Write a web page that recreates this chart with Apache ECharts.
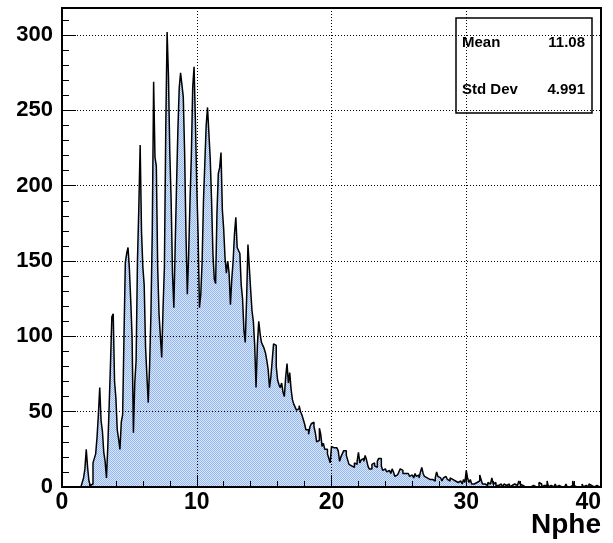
<!DOCTYPE html>
<html>
<head>
<meta charset="utf-8">
<script src="https://cdn.jsdelivr.net/npm/echarts@6/dist/echarts.min.js"></script>
<style>
html, body { margin: 0; padding: 0; background: #fff; }
#chart { width: 613px; height: 543px; }
</style>
</head>
<body>
<div id="chart"></div>
<script>
// Histogram of Nphe: 400 bins of width 0.1 from 0 to 40
const binLow = 0;
const binHigh = 40;
const binWidth = 0.1;
const counts = [
  0,0,0,0,0,0,0,0,0,0,
  0,0,0,0,1,3,6,12,25,13,
  4,1,2,16,19,22,33,48,66,44,
  37,23,17,6,27,54,82,113,115,70,
  59,38,32,25,43,48,100,149,155,159,
  145,124,100,36,69,84,150,185,227,170,
  146,134,93,74,56,80,115,170,269,219,
  213,146,115,100,86,119,146,237,302,273,
  222,190,142,119,160,200,237,265,275,267,
  259,222,168,128,155,190,220,265,279,243,
  200,168,119,128,150,190,215,240,252,235,
  218,190,155,138,135,182,208,212,222,184,
  171,152,142,150,142,121,138,150,168,179,
  159,157,155,134,125,104,96,125,161,146,
  131,117,110,94,66,94,110,102,96,94,
  92,89,84,78,66,73,84,95,94,80,
  71,68,66,69,63,60,73,82,69,76,
  65,58,55,53,51,52,54,50,48,45,
  42,38,38,35,40,42,43,40,36,30,
  31,39,35,27,29,25,25,22,19,16,
  27,26,27,26,25,24,17,20,22,24,
  24,21,18,15,14,13,13,16,15,17,
  23,16,18,19,17,21,18,14,12,12,
  15,16,14,13,17,19,19,14,11,12,
  13,10,11,12,9,12,10,7,8,9,
  10,12,11,9,9,8,9,8,7,8,
  8,6,9,7,8,6,10,13,9,7,
  6,7,5,6,5,5,4,6,10,7,
  6,5,4,6,7,8,5,4,6,5,
  6,4,5,3,2,4,3,2,5,3,
  11,6,3,5,2,2,1,3,2,4,
  8,5,2,2,2,1,3,2,1,6,
  2,3,1,1,2,2,1,0,2,1,
  1,2,0,1,0,2,1,1,0,4,
  2,1,0,0,1,0,1,0,0,1,
  0,0,1,0,3,2,0,1,0,1,
  4,0,1,0,0,0,2,0,1,0,
  0,1,0,0,2,0,0,0,1,4,
  1,0,0,0,0,0,2,0,1,0,
  0,2,1,0,0,0,1,0,0,0
];
const yMax = 318;
const xTickStep = 10;
const yTickStep = 50;
const yMinorStep = 10;
const xTitle = 'Nphe';
const statNames = ['Mean', 'Std Dev'];
const statValues = ['11.08', '4.991'];

// step-line points at the left edge of each bin, closed at the upper edge
const points = counts.map((c, i) => [binLow + i * binWidth, c]);
points.push([binHigh, counts[counts.length - 1]]);

// dithered light-blue fill
const tile = document.createElement('canvas');
tile.width = 2; tile.height = 2;
const tg = tile.getContext('2d');
tg.fillStyle = '#dbe7f9'; tg.fillRect(0, 0, 2, 2);
tg.fillStyle = '#93b8f0'; tg.fillRect(0, 0, 1, 1); tg.fillRect(1, 1, 1, 1);

const font = '"Liberation Sans", Arial, Helvetica, sans-serif';
const chart = echarts.init(document.getElementById('chart'), null, { renderer: 'canvas' });

const dotted = { show: true, lineStyle: { color: '#000', width: 1, type: [1, 2] } };

function statText(x, y, text, align) {
  return { type: 'text', x: x, y: y, z: 11,
    style: { text: text, font: 'bold 15px ' + font, fill: '#000', align: align, verticalAlign: 'middle' } };
}

chart.setOption({
  animation: false,
  backgroundColor: '#fff',
  grid: { left: 62, right: 12, top: 8, bottom: 56, show: true, borderColor: '#000', borderWidth: 2, backgroundColor: 'transparent' },
  xAxis: {
    type: 'value', min: binLow, max: binHigh, interval: xTickStep, z: 5,
    axisLine: { show: true, onZero: false, lineStyle: { color: '#000', width: 2 } },
    axisTick: { show: true, inside: true, length: 12, lineStyle: { color: '#000', width: 1 } },
    minorTick: { show: true, splitNumber: 5, length: 6, lineStyle: { color: '#000', width: 1 } },
    splitLine: dotted,
    axisLabel: { color: '#000', fontFamily: font, fontWeight: 'bold', fontSize: 23, margin: 4, alignMaxLabel: 'right' }
  },
  yAxis: [{
    type: 'value', min: 0, max: yMax, interval: yTickStep, z: 5,
    axisLine: { show: true, onZero: false, lineStyle: { color: '#000', width: 2 } },
    axisTick: { show: true, inside: true, length: 14, lineStyle: { color: '#000', width: 1 } },
    splitLine: dotted,
    axisLabel: { color: '#000', fontFamily: font, fontWeight: 'bold', fontSize: 22, margin: 9, showMaxLabel: false }
  }, {
    type: 'value', min: 0, max: yMax, interval: yMinorStep, position: 'left', z: 5,
    axisLine: { show: false },
    axisTick: { show: true, inside: true, length: 7, lineStyle: { color: '#000', width: 1 } },
    splitLine: { show: false },
    axisLabel: { show: false }
  }],
  series: [{
    type: 'line', step: 'end', data: points, yAxisIndex: 0,
    symbol: 'none', z: 2, silent: true,
    lineStyle: { color: '#000', width: 1.5 },
    areaStyle: { color: { image: tile, repeat: 'repeat' }, opacity: 1 }
  }],
  graphic: [
    { type: 'text', x: 601, y: 525, z: 10,
      style: { text: xTitle, font: 'bold 28px ' + font, fill: '#000', align: 'right', verticalAlign: 'middle' } },
    { type: 'rect', x: 456, y: 18, z: 10,
      shape: { width: 136, height: 95 },
      style: { fill: 'none', stroke: '#000', lineWidth: 1.5 } },
    statText(462, 43, statNames[0], 'left'),
    statText(585, 43, statValues[0], 'right'),
    statText(462, 90, statNames[1], 'left'),
    statText(585, 90, statValues[1], 'right')
  ]
});
</script>
</body>
</html>
